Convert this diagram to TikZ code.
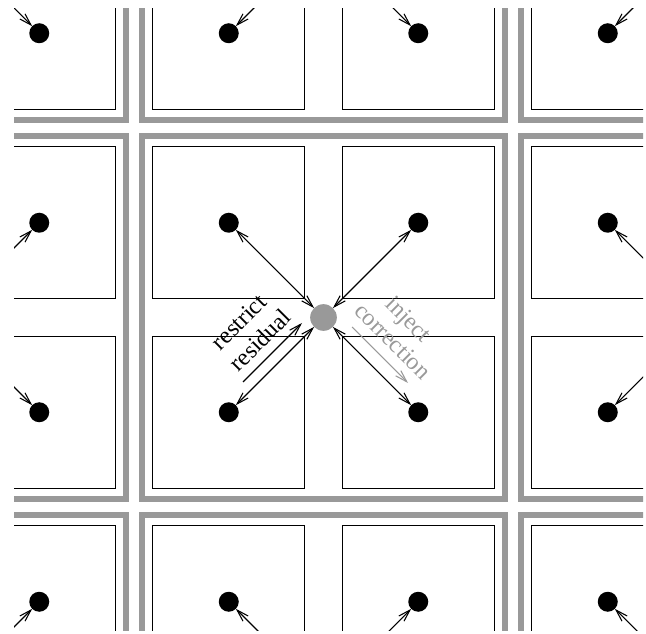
\documentclass[tikz,border=0pt]{standalone}
\usepackage{fontspec}
\setmainfont{Liberation Serif}
\usetikzlibrary{arrows.meta}
\definecolor{gline}{gray}{0.6}
\begin{document}
\begin{tikzpicture}[x=0.75pt,y=-0.75pt,
  cellbox/.style={draw=black, line width=1pt},
  superbox/.style={draw=gline, line width=4pt},
  dot/.style={circle, fill=black, inner sep=0pt, minimum size=15pt, outer sep=0pt},
  cdot/.style={circle, fill=gline, inner sep=0pt, minimum size=20pt, outer sep=0pt},
  link/.style={line width=0.8pt, {Straight Barb[length=9pt,width=5.5pt]}-{Straight Barb[length=9pt,width=5.5pt]}},
  note/.style={line width=0.8pt, -{Straight Barb[length=9pt,width=5.5pt]}},
  lbl/.style={font=\fontsize{18pt}{21pt}\selectfont, inner sep=0pt},
  glbl/.style={lbl, text=gline}]
\useasboundingbox (0,0) rectangle (646,634);
\clip (14,9) rectangle (643,630);
\foreach \i in {0,1,2}{
  \foreach \j in {0,1,2}{
    \pgfmathsetmacro{\X}{323.5+379*(\i-1)}
    \pgfmathsetmacro{\Y}{317.5+379*(\j-1)}
    \draw[superbox] (\X-181.5,\Y-181.5) rectangle (\X+181.5,\Y+181.5);
    \node[cdot] (c\i\j) at (\X,\Y) {};
    \foreach \a/\b/\k in {-1/-1/1, 1/-1/2, -1/1/3, 1/1/4}{
      \pgfmathsetmacro{\cx}{\X+94.75*\a}
      \pgfmathsetmacro{\cy}{\Y+94.75*\b}
      \draw[cellbox] (\cx-76,\cy-76) rectangle (\cx+76,\cy+76);
      \node[dot] (d\i\j\k) at (\cx,\cy) {};
      \draw[link] (c\i\j) -- (d\i\j\k);
    }
  }
}
\node[lbl, rotate=45] (restrict) at (239,322) {restrict};
\node[lbl, rotate=45] (residual) at (260,340) {residual};
\node[glbl, rotate=-45] (inject) at (407,321) {inject};
\node[glbl, rotate=-45] (correction) at (393,341) {correction};
\coordinate (ra) at (243,382);
\coordinate (rb) at (302,323);
\coordinate (ia) at (352,327);
\coordinate (ib) at (408,383);
\draw[note] (ra) -- (rb);
\draw[note, draw=gline] (ia) -- (ib);
\end{tikzpicture}
\end{document}
